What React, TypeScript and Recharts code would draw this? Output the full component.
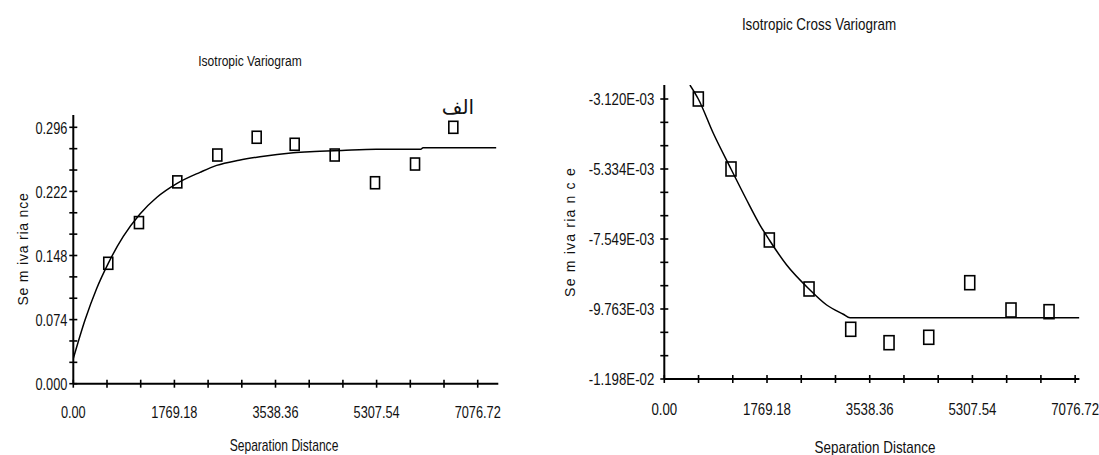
import React from 'react';
import { ComposedChart, Line, Scatter, XAxis, YAxis } from 'recharts';

const FONT = "'Liberation Sans', Arial, sans-serif";

// ---------- Left panel: Isotropic Variogram ----------
const leftLagDistance = [612, 1149, 1820, 2520, 3209, 3874, 4574, 5280, 5980, 6650];
const leftSemivariance = [0.139, 0.186, 0.233, 0.264, 0.2845, 0.2764, 0.264, 0.232, 0.2536, 0.296];
const leftModelDistance = [0, 205, 409, 612, 875, 1167, 1459, 1809, 2217, 2509, 2900, 3267, 3850, 4141, 4700, 5300, 6080, 6120, 7400];
const leftModelSemivariance = [0.029, 0.0735, 0.11, 0.139, 0.17, 0.196, 0.215, 0.231, 0.244, 0.252, 0.258, 0.262, 0.2665, 0.2678, 0.2693, 0.2706, 0.2706, 0.2725, 0.2725];
const leftYMajorTicks = [0, 0.074, 0.148, 0.222, 0.296];
const leftYTickLabels = ['0.000', '0.074', '0.148', '0.222', '0.296'];

// ---------- Right panel: Isotropic Cross Variogram ----------
const rightLagDistance = [586, 1149, 1809, 2493, 3211, 3871, 4555, 5261, 5972, 6627];
const rightSemivariance = [-0.00312, -0.005334, -0.00758, -0.00913, -0.010405, -0.010829, -0.010658, -0.008931, -0.009795, -0.009848];
const rightModelDistance = [441, 586, 844, 1149, 1419, 1648, 1809, 2108, 2493, 2797, 3084, 3199, 7150];
const rightModelSemivariance = [-0.002677, -0.00312, -0.004205, -0.005334, -0.006315, -0.007106, -0.00758, -0.008371, -0.00913, -0.009636, -0.00993, -0.010038, -0.010038];
const rightYMajorTicks = [-0.0119775, -0.0097632, -0.0075489, -0.0053346, -0.0031203];
const rightYTickLabels = ['-1.198E-02', '-9.763E-03', '-7.549E-03', '-5.334E-03', '-3.120E-03'];

// ---------- Shared x axis ----------
const xMajorTicks = [0, 1769.18, 3538.36, 5307.54, 7076.72];
const xTickLabels = ['0.00', '1769.18', '3538.36', '5307.54', '7076.72'];

function subdivide(majors: number[], parts: number): number[] {
  const out: number[] = [];
  for (let i = 0; i < majors.length - 1; i++) {
    const d = majors[i + 1] - majors[i];
    for (let k = 0; k < parts; k++) out.push(majors[i] + (d * k) / parts);
  }
  out.push(majors[majors.length - 1]);
  return out;
}

function zip(xs: number[], ys: number[]) {
  return xs.map((h, i) => ({ h, v: ys[i] }));
}

function makeTick(axis: 'x' | 'y', labels: string[], sx: number, offset: number) {
  return (props: any) => {
    const { x, y, index } = props;
    const label = index % 3 === 0 ? labels[index / 3] : null;
    if (axis === 'y') {
      return (
        <g>
          <line x1={x - 4} x2={x + 4} y1={y} y2={y} stroke="#000" strokeWidth={1.6} />
          {label && (
            <text
              transform={`translate(${x - offset},${y}) scale(${sx},1)`}
              textAnchor="end"
              dominantBaseline="central"
              fontSize={17}
              fontFamily={FONT}
              fill="#111"
            >
              {label}
            </text>
          )}
        </g>
      );
    }
    return (
      <g>
        <line x1={x} x2={x} y1={y - 4} y2={y + 4} stroke="#000" strokeWidth={1.6} />
        {label && (
          <text
            transform={`translate(${x},${y + offset}) scale(${sx},1)`}
            textAnchor="middle"
            dominantBaseline="central"
            fontSize={17}
            fontFamily={FONT}
            fill="#111"
          >
            {label}
          </text>
        )}
      </g>
    );
  };
}

function makeSquare(w: number, h: number) {
  return (props: any) => {
    const { cx, cy } = props;
    return <rect x={cx - w / 2} y={cy - h / 2} width={w} height={h} fill="none" stroke="#000" strokeWidth={1.6} />;
  };
}

type PanelProps = {
  left: number;
  width: number;
  plotLeft: number;
  plotTop: number;
  plotRight: number;
  plotBottom: number;
  xMax: number;
  yDomain: [number, number];
  yMajors: number[];
  yLabels: string[];
  points: { h: number; v: number }[];
  model: { h: number; v: number }[];
  tickScale: number;
  yTickOffset: number;
  xTickOffset: number;
  sq: [number, number];
};

function Panel(p: PanelProps) {
  const yTicks = subdivide(p.yMajors, 3);
  const xTicks = subdivide(xMajorTicks, 3);
  const H = 455;
  return (
    <div style={{ position: 'absolute', left: p.left, top: 0 }}>
      <ComposedChart
        width={p.width}
        height={H}
        margin={{ top: p.plotTop, right: p.width - p.plotRight, bottom: 0, left: 0 }}
        style={{ overflow: 'visible' }}
      >
        <XAxis
          type="number"
          dataKey="h"
          domain={[0, p.xMax]}
          ticks={xTicks}
          interval={0}
          height={H - p.plotBottom}
          tickSize={0}
          tickMargin={0}
          tickLine={false}
          axisLine={{ stroke: '#000', strokeWidth: 2 }}
          tick={makeTick('x', xTickLabels, p.tickScale, p.xTickOffset)}
          allowDataOverflow
        />
        <YAxis
          type="number"
          dataKey="v"
          domain={p.yDomain}
          ticks={yTicks}
          interval={0}
          width={p.plotLeft}
          tickSize={0}
          tickMargin={0}
          tickLine={false}
          axisLine={{ stroke: '#000', strokeWidth: 2 }}
          tick={makeTick('y', p.yLabels, p.tickScale, p.yTickOffset)}
          allowDataOverflow
        />
        <Line
          data={p.model}
          dataKey="v"
          type="monotone"
          stroke="#000"
          strokeWidth={1.5}
          dot={false}
          activeDot={false}
          isAnimationActive={false}
        />
        <Scatter data={p.points} dataKey="v" shape={makeSquare(p.sq[0], p.sq[1])} isAnimationActive={false} />
      </ComposedChart>
    </div>
  );
}

function TextAt(props: {
  x: number;
  y: number;
  size: number;
  sx?: number;
  rotate?: boolean;
  spacing?: number;
  family?: string;
  children: React.ReactNode;
}) {
  const { x, y, size, sx = 1, rotate, spacing = 0, family = FONT } = props;
  return (
    <div
      style={{
        position: 'absolute',
        left: x,
        top: y,
        transform: `translate(-50%, -50%) ${rotate ? 'rotate(-90deg)' : ''} scaleX(${sx})`,
        fontSize: size,
        fontFamily: family,
        lineHeight: 1,
        whiteSpace: 'nowrap',
        letterSpacing: spacing,
        color: '#111',
      }}
    >
      {props.children}
    </div>
  );
}

export default function App() {
  return (
    <div
      style={{
        position: 'absolute',
        left: 0,
        top: 0,
        width: 1099,
        height: 455,
        background: '#fff',
        overflow: 'hidden',
      }}
    >
      <Panel
        left={0}
        width={540}
        plotLeft={73.3}
        plotTop={115}
        plotRight={498.3}
        plotBottom={383.7}
        xMax={7437}
        yDomain={[0, 0.3102]}
        yMajors={leftYMajorTicks}
        yLabels={leftYTickLabels}
        points={zip(leftLagDistance, leftSemivariance)}
        model={zip(leftModelDistance, leftModelSemivariance)}
        tickScale={0.75}
        yTickOffset={6}
        xTickOffset={28}
        sq={[9, 12]}
      />
      <Panel
        left={540}
        width={559}
        plotLeft={124.3}
        plotTop={85}
        plotRight={539.4}
        plotBottom={379}
        xMax={7150}
        yDomain={[-0.0119775, -0.0026771]}
        yMajors={rightYMajorTicks}
        yLabels={rightYTickLabels}
        points={zip(rightLagDistance, rightSemivariance)}
        model={zip(rightModelDistance, rightModelSemivariance)}
        tickScale={0.78}
        yTickOffset={10}
        xTickOffset={30}
        sq={[10, 14]}
      />
      <TextAt x={250} y={61} size={14} sx={0.86}>Isotropic Variogram</TextAt>
      <TextAt x={819} y={24} size={17} sx={0.79}>Isotropic Cross Variogram</TextAt>
      <TextAt x={284} y={445} size={17} sx={0.71}>Separation Distance</TextAt>
      <TextAt x={875} y={447} size={17} sx={0.79}>Separation Distance</TextAt>
      <TextAt x={23} y={249} size={14} rotate spacing={0.8}>Se m iva ria nce</TextAt>
      <TextAt x={570} y={232} size={14} rotate spacing={1.2}>Se m iva ria n c e</TextAt>
      <TextAt x={458} y={107} size={20} family="'DejaVu Sans', sans-serif">الف</TextAt>
    </div>
  );
}
